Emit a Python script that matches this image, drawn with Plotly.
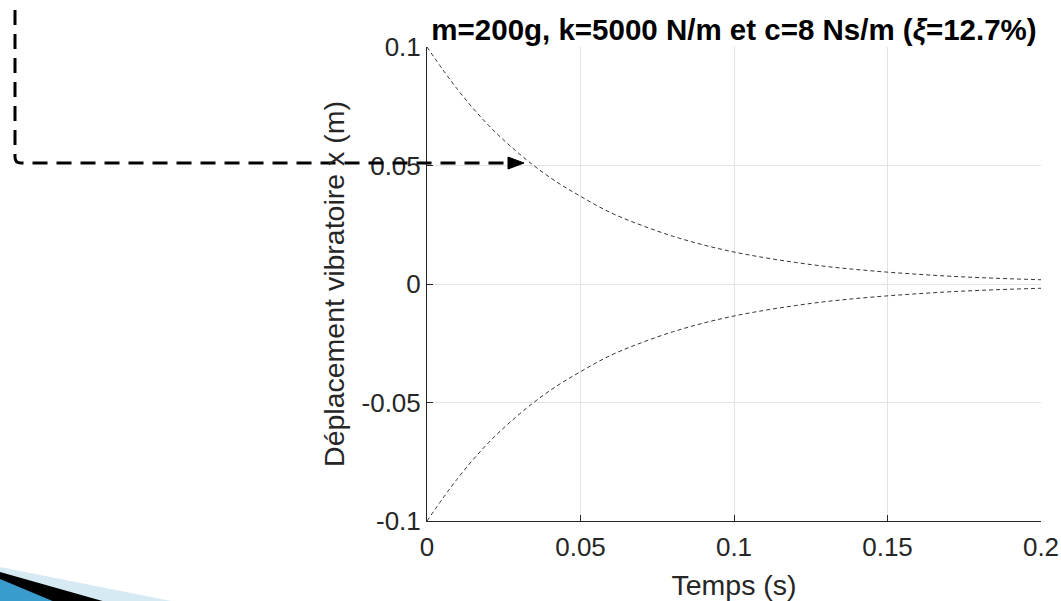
import plotly.graph_objects as go

# ---- data ----
temps = [0.0, 0.01, 0.02, 0.03, 0.04, 0.05, 0.06, 0.07, 0.08, 0.09, 0.10,
         0.11, 0.12, 0.13, 0.14, 0.15, 0.16, 0.17, 0.18, 0.19, 0.20]
enveloppe_sup = [0.1, 0.082, 0.067, 0.055, 0.045, 0.037, 0.030, 0.0247, 0.0202,
                 0.0165, 0.0135, 0.0111, 0.0091, 0.0074, 0.0061, 0.0050, 0.0041,
                 0.0033, 0.0027, 0.0022, 0.0018]
enveloppe_inf = [-0.1, -0.082, -0.067, -0.055, -0.045, -0.037, -0.030, -0.0247, -0.0202,
                 -0.0165, -0.0135, -0.0111, -0.0091, -0.0074, -0.0061, -0.0050, -0.0041,
                 -0.0033, -0.0027, -0.0022, -0.0018]
x_ticks = [0, 0.05, 0.1, 0.15, 0.2]
x_ticklabels = ["0", "0.05", "0.1", "0.15", "0.2"]
y_ticks = [-0.1, -0.05, 0, 0.05, 0.1]
y_ticklabels = ["-0.1", "-0.05", "0", "0.05", "0.1"]

W, H = 1061, 601
# plot area in page pixels
L, R, T, B = 427, 1041, 47, 521

def px(x, y):
    return ((x - L) / (R - L), (B - y) / (B - T))

fig = go.Figure()
for ys in (enveloppe_sup, enveloppe_inf):
    fig.add_trace(go.Scatter(x=temps, y=ys, mode="lines",
                             line=dict(color="black", width=0.8, dash="4px,3px", shape="spline"),
                             showlegend=False, hoverinfo="skip"))

axis_col = "#262626"
grid_col = "#e3e3e3"
FONT = "Liberation Sans, Arial"
fig.update_xaxes(range=[0, 0.2], tickvals=x_ticks, ticktext=x_ticklabels,
                 showline=True, linecolor=axis_col, linewidth=1, mirror=False,
                 ticks="inside", ticklen=6, tickcolor=axis_col, ticklabelstandoff=3,
                 showgrid=True, gridcolor=grid_col, gridwidth=1, zeroline=False,
                 tickfont=dict(family=FONT, size=26, color=axis_col),
                 title=dict(text="Temps (s)", standoff=14,
                            font=dict(family=FONT, size=28.5, color=axis_col)))
fig.update_yaxes(range=[-0.1, 0.1], tickvals=y_ticks, ticktext=y_ticklabels,
                 showline=True, linecolor=axis_col, linewidth=1, mirror=False,
                 ticks="inside", ticklen=6, tickcolor=axis_col,
                 showgrid=True, gridcolor=grid_col, gridwidth=1, zeroline=False,
                 tickfont=dict(family=FONT, size=26, color=axis_col),
                 title=dict(text="Déplacement vibratoire x (m)", standoff=8,
                            font=dict(family=FONT, size=28.5, color=axis_col)))

shapes = []
# dashed L-shaped arrow line
p1 = px(15, 10); p2 = px(15, 157); p3 = px(21, 163); p4 = px(510, 163)
pc = px(15, 163)
shapes.append(dict(type="path", xref="paper", yref="paper",
                   path=f"M {p1[0]} {p1[1]} L {p2[0]} {p2[1]} Q {pc[0]} {pc[1]} {p3[0]} {p3[1]} L {p4[0]} {p4[1]}",
                   line=dict(color="black", width=3, dash="15px,9px")))
a1 = px(508, 157); a2 = px(524, 163); a3 = px(508, 169)
shapes.append(dict(type="path", xref="paper", yref="paper",
                   path=f"M {a1[0]} {a1[1]} L {a2[0]} {a2[1]} L {a3[0]} {a3[1]} Z",
                   fillcolor="black", line=dict(color="black", width=1)))

# bottom-left slide decoration
def tri(pts, col):
    q = [px(*p) for p in pts]
    path = "M " + " L ".join(f"{a} {b}" for a, b in q) + " Z"
    return dict(type="path", xref="paper", yref="paper", path=path,
                fillcolor=col, line=dict(width=0), layer="above")
shapes.append(tri([(0, 567), (176, 602), (0, 602)], "#d6eaf3"))
shapes.append(tri([(0, 572), (106, 602), (0, 602)], "#000000"))
shapes.append(tri([(0, 579), (55, 602), (0, 602)], "#3a9ccc"))

fig.update_layout(
    width=W, height=H,
    margin=dict(l=L, r=W - R, t=T, b=H - B, autoexpand=False),
    paper_bgcolor="white", plot_bgcolor="white",
    shapes=shapes,
    title=dict(text="<b>m=200g, k=5000 N/m et c=8 Ns/m (<i>ξ</i>=12.7%)</b>",
               x=0.5, xref="paper", xanchor="center",
               y=1 - 30 / H, yref="container", yanchor="middle",
               font=dict(family=FONT, size=29.5, color="black")),
)

fig.write_html("out.html", config={"displayModeBar": False},
               post_script="document.body.style.margin='0';document.body.style.overflow='hidden';")
